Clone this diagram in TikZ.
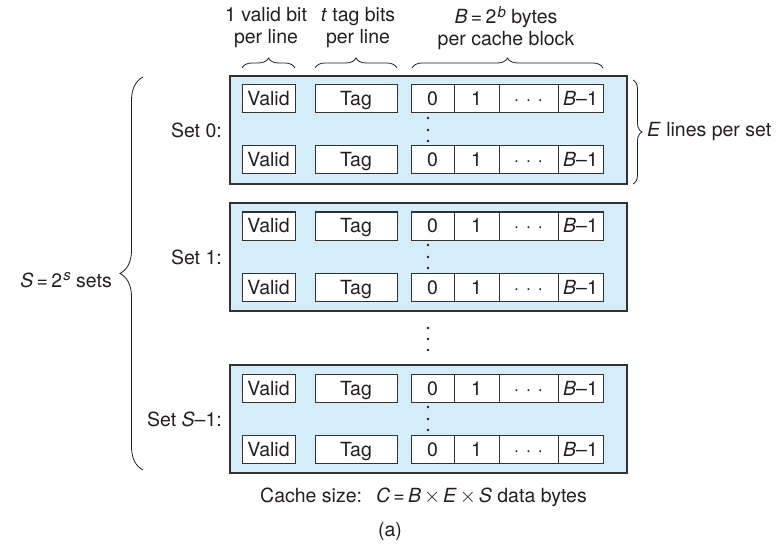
\documentclass[tikz,border=0pt]{standalone}
\usepackage{fontspec}
\setmainfont{TeX Gyre Heros}
\usetikzlibrary{decorations.pathreplacing}
\definecolor{setfill}{RGB}{213,236,249}
\definecolor{ink}{RGB}{35,31,32}
\definecolor{edge}{RGB}{50,50,50}
\newcommand{\supit}[1]{\hspace{1.2pt}\raisebox{6.5pt}{\fontsize{15}{15}\selectfont\textit{#1}}}
\begin{document}
\begin{tikzpicture}[x=1pt,y=-1pt,
  font=\fontsize{19.5}{22}\selectfont, text=ink,
  setbox/.style={draw=edge, line width=1.3pt, fill=setfill, minimum width=397pt, minimum height=108pt, inner sep=0pt},
  cell/.style={draw=edge, line width=1pt, fill=white, minimum height=28pt, inner sep=0pt, text height=15pt, text depth=1pt},
  lbl/.style={inner sep=0pt},
  brc/.style={draw=ink, line width=0.8pt, decorate, decoration={brace, amplitude=#1}},
  vdot/.style={fill=ink, draw=none}
]
\useasboundingbox (0,0) rectangle (784,548);

% top labels
\node[lbl, align=center] (lv) at (266,28) {1 valid bit\\per line};
\node[lbl, align=center] (lt) at (358,28) {\textit{t} tag bits\\per line};
\node[lbl, align=center] (lb) at (506,28) {\textit{B}\,=\,2\supit{b} bytes\\per cache block};

\draw[brc=10pt] (242,68) -- (295,68);
\draw[brc=10pt] (315,68) -- (397,68);
\draw[brc=10pt] (412,68) -- (603,68);

\foreach \nm/\top/\txt in {s0/76/{Set 0:}, s1/203/{Set 1:}, s2/365/{Set \textit{S}–1:}} {
  \node[setbox] (\nm) at (428.5,\top+54) {};
  \node[lbl, anchor=east] (\nm lab) at (222,\top+54) {\txt};
  \foreach \ln/\off in {a/23, b/84} {
    \node[cell, minimum width=53pt] (\nm\ln v) at (268.5,\top+\off) {Valid};
    \node[cell, minimum width=82pt] (\nm\ln t) at (356,\top+\off) {Tag};
    \node[cell, minimum width=43pt] (\nm\ln c0) at (432.5,\top+\off) {0};
    \node[cell, minimum width=45pt] (\nm\ln c1) at (476.5,\top+\off) {1};
    \node[cell, minimum width=59pt] (\nm\ln cd) at (528.5,\top+\off) {·\hspace{6.5pt}·\hspace{6.5pt}·};
    \node[cell, minimum width=45pt] (\nm\ln cb) at (580.5,\top+\off) {\textit{B}–1};
  }
  \foreach \dy in {42,54,65} {
    \fill[vdot] (428,\top+\dy) circle (1.3pt);
  }
}

% dots between sets
\foreach \yy in {328,339,350} { \fill[vdot] (428,\yy) circle (1.3pt); }

% E lines per set
\draw[brc=9pt] (633,80) -- (633,184);
\node[lbl, anchor=west] (elab) at (647,132) {\textit{E} lines per set};

% S sets
\draw[brc=23pt] (143,470) -- (143,77);
\node[lbl, anchor=east] (slab) at (112,280) {\textit{S}\,=\,2\supit{s} sets};

% caption
\node[lbl, anchor=west] (cap) at (260,497) {Cache size:\hspace{14pt}\textit{C}\,=\,\textit{B}\hspace{3pt}$\times$\hspace{3pt}\textit{E}\hspace{3pt}$\times$\hspace{3pt}\textit{S} data bytes};
\node[lbl] (sub) at (390,531) {(a)};
\end{tikzpicture}
\end{document}
